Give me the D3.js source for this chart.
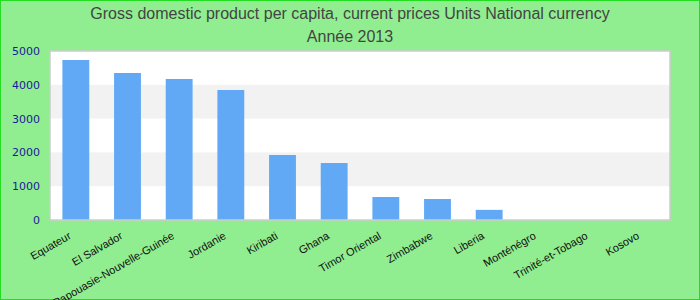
<!DOCTYPE html>
<html><head><meta charset="utf-8">
<script src="https://cdn.jsdelivr.net/npm/d3@7"></script>
<style>body{margin:0;background:#90ee90;}svg{display:block;}</style>
</head><body>
<script>
const categories = ["Equateur","El Salvador","Papouasie-Nouvelle-Guinée","Jordanie","Kiribati","Ghana","Timor Oriental","Zimbabwe","Liberia","Monténégro","Trinité-et-Tobago","Kosovo"];
const values = [4734, 4349, 4172, 3846, 1923, 1686, 680, 621, 300, 0, 0, 0];
const yTicks = [0, 1000, 2000, 3000, 4000, 5000];
const title1 = "Gross domestic product per capita, current prices Units National currency";
const title2 = "Année 2013";

const W = 700, H = 300;
const m = {left: 50, right: 30, top: 51, bottom: 80};
const svg = d3.select("body").append("svg").attr("width", W).attr("height", H);
svg.append("rect").attr("x",0.5).attr("y",0.5).attr("width",W-1).attr("height",H-1)
  .attr("fill","#90ee90").attr("stroke","#22dd22").attr("stroke-width",1);

const x = d3.scaleBand().domain(categories).range([m.left, W - m.right]).paddingInner(0.48).paddingOuter(0.24);
const y = d3.scaleLinear().domain([0, 5000]).range([H - m.bottom, m.top]);

svg.append("rect").attr("x", m.left).attr("y", m.top).attr("width", W - m.left - m.right).attr("height", H - m.top - m.bottom).attr("fill", "#fff");
const bands = d3.pairs(yTicks).filter((d,i)=> i % 2 === 1);
svg.selectAll("rect.band").data(bands).enter().append("rect").attr("class","band")
  .attr("x", m.left).attr("width", W - m.left - m.right)
  .attr("y", d => y(d[1])).attr("height", d => y(d[0]) - y(d[1])).attr("fill", "#f2f2f2");

svg.selectAll("rect.bar").data(values).enter().append("rect").attr("class","bar")
  .attr("x", (d,i) => x(categories[i])).attr("width", x.bandwidth())
  .attr("y", d => y(d)).attr("height", d => y(0) - y(d)).attr("fill", "#62a9f5");

svg.append("rect").attr("x", m.left).attr("y", m.top).attr("width", W - m.left - m.right).attr("height", H - m.top - m.bottom)
  .attr("fill", "none").attr("stroke", "#cccccc").attr("stroke-width", 1.5);

const ya = svg.append("g").attr("transform", `translate(${m.left - 10},0)`)
  .call(d3.axisLeft(y).tickValues(yTicks).tickSize(0).tickPadding(0).tickFormat(d3.format("d")));
ya.select(".domain").remove();
ya.selectAll("text").attr("fill", "#1a1a9a").style("font-family", "DejaVu Sans").style("font-size", "11px");

const xa = svg.append("g").attr("transform", `translate(0,${H - m.bottom})`)
  .call(d3.axisBottom(x).tickSize(0).tickPadding(0));
xa.select(".domain").remove();
xa.selectAll("text").attr("fill", "#111").style("font-family", "Liberation Sans, Arial").style("font-size", "11px")
  .attr("text-anchor", "end").attr("dy", null).attr("transform", "translate(-4,18) rotate(-30)");

svg.append("text").attr("x", W/2).attr("y", 19).attr("text-anchor","middle")
  .style("font-family","Liberation Sans, Arial").style("font-size","16px").attr("fill","#444").text(title1);
svg.append("text").attr("x", W/2).attr("y", 42).attr("text-anchor","middle")
  .style("font-family","Liberation Sans, Arial").style("font-size","16px").attr("fill","#444").text(title2);
</script>
</body></html>
